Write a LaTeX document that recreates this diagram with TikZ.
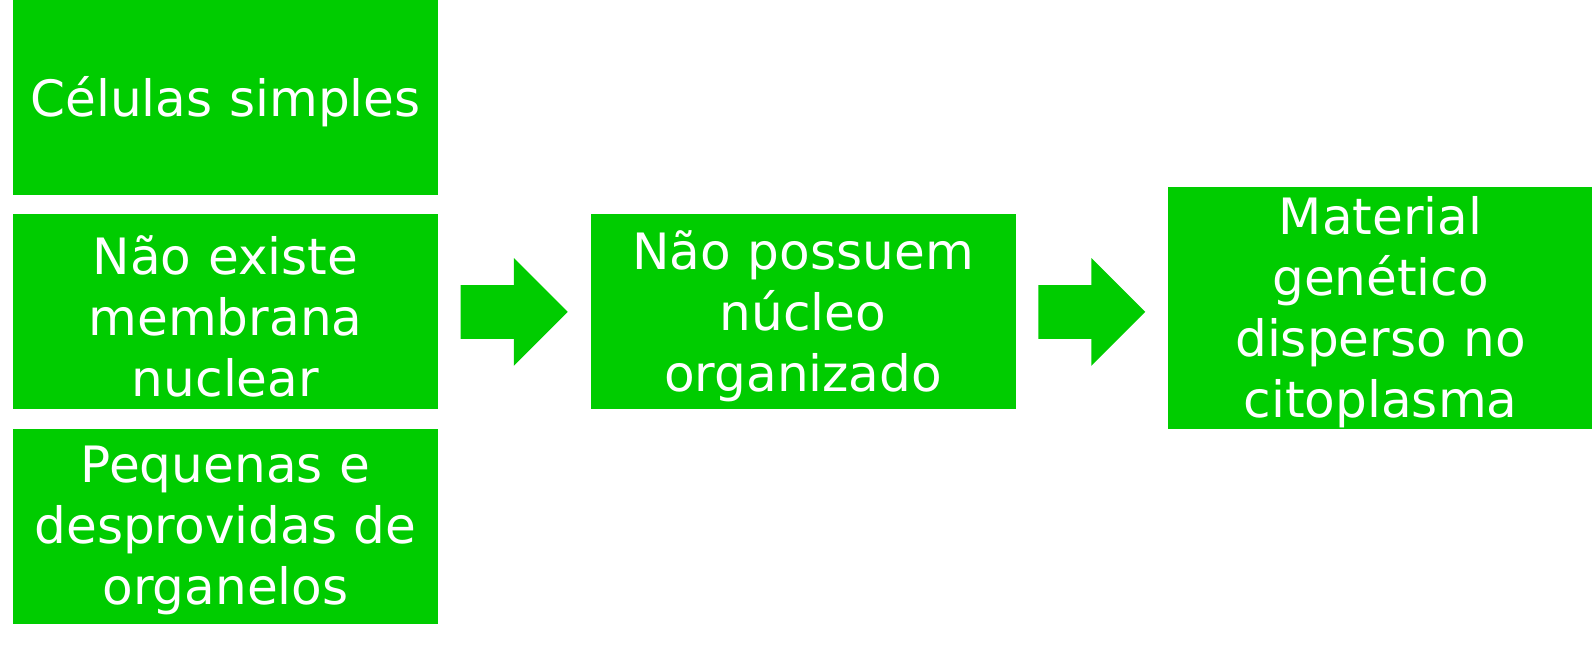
\documentclass[tikz,border=0pt]{standalone}
\usepackage{fontspec}
\setmainfont{DejaVu Sans}
\usepackage{xcolor}
\usepackage{tikz}
\usetikzlibrary{shapes.arrows, positioning}
\definecolor{cellgreen}{HTML}{00CC00}

\begin{document}
\begin{tikzpicture}[
    node distance=0.37cm,
    box/.style={rectangle, fill=cellgreen, text=white, text width=8.2cm, align=center, minimum width=8.5cm, minimum height=3.9cm, inner sep=0pt, font=\fontsize{28.5}{34.7}\selectfont, execute at end node={\endgraf\kern-0.16cm}},
    bigarrow/.style={single arrow, fill=cellgreen, minimum height=2.14cm, inner xsep=0pt, inner ysep=0.53cm, single arrow head extend=0.54cm, single arrow tip angle=90}
]
\useasboundingbox (0,0) rectangle (31.84,-12.94);

% Left column
\node[box] at (4.51,-1.955) (simples) {Células simples};
\node[box, below=of simples] (membrana) {Não existe\\membrana\\nuclear};
\node[box, below=of membrana] (pequenas) {Pequenas e\\desprovidas de\\organelos};

% Middle
\node[bigarrow, right=0.44cm of membrana] (arrowA) {};
\node[box, right=0.44cm of arrowA] (nucleo) {Não possuem\\núcleo\\organizado};

% Right
\node[bigarrow, right=0.44cm of nucleo] (arrowB) {};
\node[box, right=0.44cm of arrowB, minimum height=4.84cm, yshift=0.08cm] (material) {Material\\genético\\disperso no\\citoplasma};

\end{tikzpicture}
\end{document}
